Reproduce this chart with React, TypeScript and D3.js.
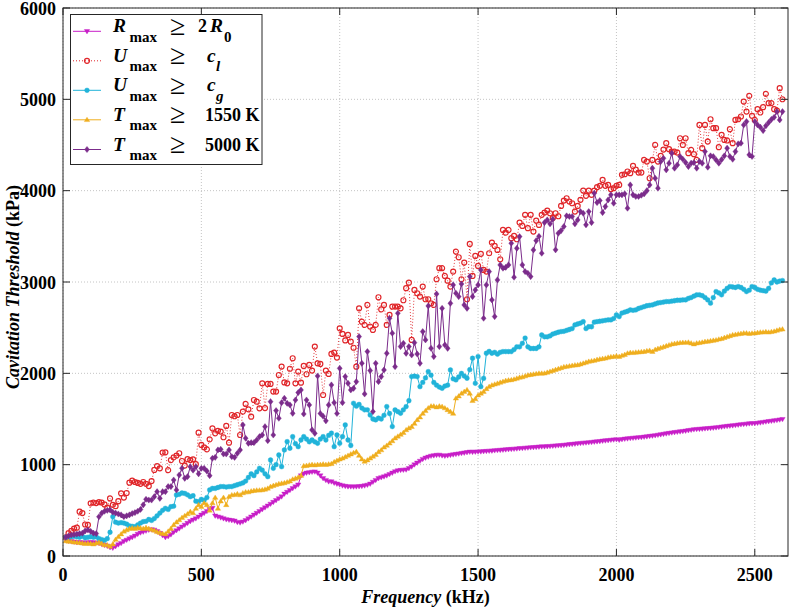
import React from 'react';
import * as d3 from 'd3';

// ---------------- data ----------------
const frequencies: number[] = d3.range(10, 2601, 10); // kHz

const rmax2R0: number[] = [
  175, 165, 160, 155, 150, 150, 145, 148, 145, 150,
  148, 145, 140, 130, 120, 110, 95, 88, 105, 125,
  140, 160, 175, 190, 205, 220, 240, 255, 265, 275,
  285, 290, 285, 270, 250, 225, 205, 215, 235, 260,
  280, 300, 320, 340, 360, 380, 395, 410, 430, 450,
  470, 490, 510, 525, 440, 430, 420, 410, 400, 395,
  390, 385, 370, 365, 375, 390, 410, 430, 450, 470,
  490, 510, 530, 550, 570, 590, 610, 630, 650, 680,
  700, 720, 740, 760, 780, 880, 900, 910, 915, 920,
  923, 910, 880, 850, 830, 815, 814, 800, 790, 780,
  770, 765, 760, 760, 758, 760, 762, 765, 770, 778,
  790, 810, 830, 850, 860, 869, 880, 895, 910, 925,
  935, 940, 942, 945, 960, 978, 1000, 1020, 1040, 1060,
  1075, 1085, 1095, 1100, 1105, 1106, 1100, 1095, 1100, 1105,
  1110, 1115, 1120, 1125, 1130, 1135, 1140, 1138, 1140, 1142,
  1143, 1145, 1148, 1150, 1152, 1155, 1158, 1160, 1162, 1165,
  1168, 1170, 1172, 1175, 1178, 1180, 1183, 1185, 1188, 1190,
  1192, 1195, 1197, 1198, 1200, 1202, 1205, 1207, 1210, 1212,
  1215, 1218, 1222, 1225, 1228, 1232, 1235, 1238, 1240, 1243,
  1246, 1250, 1253, 1256, 1260, 1263, 1266, 1270, 1273, 1276,
  1270, 1278, 1282, 1285, 1289, 1292, 1295, 1298, 1300, 1304,
  1308, 1312, 1316, 1320, 1325, 1330, 1335, 1340, 1345, 1350,
  1354, 1358, 1362, 1366, 1370, 1375, 1380, 1385, 1388, 1390,
  1392, 1395, 1398, 1400, 1403, 1406, 1410, 1414, 1418, 1422,
  1425, 1428, 1432, 1436, 1440, 1443, 1446, 1450, 1452, 1453,
  1456, 1460, 1465, 1470, 1474, 1478, 1482, 1487, 1492, 1497,
];

const umaxCl: number[] = [
  205, 250, 275, 300, 310, 485, 470, 345, 340, 577,
  585, 580, 590, 585, 565, 530, 630, 560, 545, 600,
  686, 640, 690, 803, 825, 810, 800, 790, 810, 790,
  766, 820, 942, 985, 960, 1132, 1135, 940, 1050, 1080,
  1100, 1125, 1040, 990, 1060, 1050, 1059, 1005, 1350, 1216,
  1190, 1168, 1277, 1398, 1343, 1370, 1362, 1300, 1424, 1241,
  1544, 1530, 1544, 1325, 1581, 1665, 1606, 1526, 1708, 1690,
  1617, 1891, 1620, 1884, 1884, 1800, 1800, 1982, 2074, 1900,
  1891, 2050, 2165, 1891, 2019, 1898, 2081, 1990, 2092, 2030,
  2293, 2110, 2103, 1763, 2030, 1993, 2212, 2227, 2172, 2493,
  2431, 2360, 2420, 2347, 2280, 2073, 2712, 2566, 2530, 2749,
  2512, 2475, 2530, 2833, 2700, 2749, 2530, 2640, 2731, 2731,
  2731, 2712, 2800, 2932, 2993, 2366, 2913, 2877, 2840, 2950,
  2811, 2811, 2767, 2749, 3030, 3151, 3151, 3066, 3015, 2950,
  3114, 3333, 3271, 3030, 3213, 2811, 3417, 3066, 3286, 3176,
  3308, 3132, 3114, 3315, 3432, 3395, 3351, 3249, 3570, 3540,
  3570, 3479, 3505, 3468, 3651, 3614, 3735, 3589, 3735, 3552,
  3673, 3625, 3735, 3760, 3782, 3753, 3700, 3753, 3720, 3833,
  3892, 3917, 3881, 3862, 3771, 3833, 3900, 4001, 3943, 4001,
  3954, 4000, 4038, 4053, 4118, 4053, 4063, 4016, 4027, 4053,
  4063, 4173, 4180, 4210, 4191, 4271, 4230, 4198, 4198, 4337,
  4319, 4136, 4337, 4501, 4319, 4381, 4450, 4520, 4454, 4428,
  4428, 4417, 4574, 4501, 4574, 4410, 4447, 4400, 4337, 4720,
  4465, 4720, 4538, 4782, 4684, 4684, 4476, 4611, 4556, 4549,
  4673, 4520, 4775, 4782, 4812, 4976, 4866, 5038, 4819, 4775,
  4892, 4856, 4914, 5060, 4958, 4958, 4892, 4877, 5122, 5001,
];

const umaxCg: number[] = [
  205, 205, 210, 215, 210, 205, 215, 200, 205, 211,
  205, 210, 190, 180, 170, 190, 260, 430, 370, 360,
  365, 360, 350, 330, 325, 321, 340, 360, 376, 380,
  400, 390, 410, 440, 470, 500, 522, 510, 540, 545,
  668, 675, 690, 685, 670, 650, 660, 600, 595, 620,
  610, 640, 723, 740, 740, 750, 760, 760, 755, 760,
  760, 770, 780, 790, 800, 820, 860, 900, 880, 920,
  960, 940, 900, 869, 1051, 960, 1000, 1106, 978, 1161,
  1252, 1180, 1307, 1230, 1197, 1270, 1307, 1280, 1250, 1270,
  1250, 1234, 1280, 1307, 1270, 1320, 1345, 1197, 1325, 1234,
  1307, 1435, 1270, 1210, 1672, 1640, 1660, 1620, 1600, 1600,
  1544, 1500, 1490, 1510, 1500, 1540, 1636, 1560, 1417, 1599,
  1580, 1563, 1600, 1636, 1700, 1964, 1970, 1964, 1854, 1900,
  1950, 2019, 1980, 1900, 1870, 1850, 1836, 1860, 1870, 2037,
  1940, 1928, 1960, 1999, 1970, 1946, 2040, 2165, 1891, 2183,
  1854, 1945, 2220, 2240, 2220, 2230, 2210, 2230, 2238, 2238,
  2238, 2238, 2260, 2290, 2290, 2329, 2386, 2290, 2272, 2272,
  2272, 2290, 2420, 2400, 2400, 2410, 2430, 2440, 2450, 2457,
  2460, 2470, 2480, 2490, 2530, 2540, 2550, 2566, 2490, 2510,
  2510, 2560, 2566, 2570, 2575, 2580, 2585, 2585, 2600, 2640,
  2621, 2660, 2670, 2680, 2694, 2690, 2694, 2710, 2720, 2730,
  2740, 2745, 2749, 2760, 2770, 2775, 2780, 2786, 2786, 2790,
  2795, 2800, 2800, 2804, 2804, 2820, 2830, 2845, 2859, 2860,
  2850, 2830, 2804, 2768, 2830, 2895, 2880, 2860, 2900, 2930,
  2950, 2945, 2940, 2950, 2940, 2920, 2895, 2910, 2950, 2940,
  2920, 2910, 2905, 2900, 2930, 2990, 3023, 3000, 3010, 3016,
];

const tmax1550: number[] = [
  165, 160, 158, 150, 150, 145, 140, 135, 138, 135,
  130, 140, 150, 135, 120, 120, 105, 130, 180, 211,
  240, 270, 285, 300, 305, 300, 310, 305, 300, 310,
  300, 290, 280, 265, 255, 245, 241, 270, 300, 340,
  370, 394, 420, 440, 460, 485, 470, 520, 560, 540,
  580, 560, 500, 580, 640, 520, 600, 640, 560, 650,
  668, 670, 680, 668, 690, 700, 700, 710, 715, 720,
  720, 723, 730, 740, 760, 770, 780, 790, 795, 800,
  810, 820, 840, 850, 860, 880, 986, 990, 995, 1000,
  995, 1000, 1000, 1005, 1000, 1005, 1010, 1030, 1045, 1060,
  1070, 1085, 1100, 1115, 1130, 1142, 1100, 1060, 1035, 1050,
  1070, 1090, 1110, 1140, 1160, 1190, 1210, 1234, 1260, 1290,
  1310, 1330, 1350, 1380, 1400, 1416, 1450, 1490, 1520, 1560,
  1590, 1620, 1640, 1640, 1630, 1640, 1635, 1620, 1600, 1580,
  1560, 1727, 1750, 1780, 1800, 1818, 1780, 1700, 1720, 1760,
  1780, 1800, 1830, 1855, 1870, 1880, 1890, 1900, 1910, 1920,
  1925, 1928, 1935, 1945, 1955, 1960, 1970, 1980, 1985, 1990,
  1995, 2000, 2000, 2001, 2010, 2020, 2030, 2040, 2050, 2060,
  2070, 2075, 2080, 2085, 2090, 2092, 2100, 2110, 2120, 2130,
  2135, 2140, 2150, 2155, 2160, 2165, 2175, 2180, 2183, 2190,
  2183, 2195, 2205, 2220, 2227, 2225, 2230, 2232, 2235, 2238,
  2245, 2250, 2238, 2260, 2270, 2280, 2290, 2300, 2310, 2320,
  2325, 2330, 2335, 2337, 2337, 2340, 2330, 2320, 2330, 2335,
  2340, 2347, 2350, 2355, 2360, 2365, 2373, 2380, 2390, 2400,
  2410, 2420, 2425, 2430, 2435, 2440, 2440, 2435, 2439, 2440,
  2445, 2450, 2450, 2455, 2450, 2455, 2460, 2470, 2480, 2483,
];

const tmax5000: number[] = [
  205, 220, 230, 235, 240, 245, 250, 275, 285, 270,
  250, 245, 430, 470, 490, 500, 505, 480, 470, 460,
  450, 430, 440, 450, 465, 475, 490, 510, 560, 621,
  613, 613, 650, 704, 631, 704, 704, 760, 760, 832,
  723, 887, 960, 851, 869, 978, 940, 978, 900, 960,
  960, 930, 880, 1070, 1080, 1161, 1168, 1117, 1117, 1161,
  1088, 1080, 1124, 1161, 1435, 1289, 1234, 1241, 1241, 1270,
  1307, 1325, 1416, 1263, 1690, 1325, 1592, 1508, 1679, 1727,
  1672, 1654, 1562, 1708, 1789, 1818, 1555, 1708, 1654, 1380,
  1343, 1971, 1560, 1530, 1480, 1654, 1873, 1679, 1560, 2055,
  1679, 1964, 1891, 1818, 1836, 1909, 2402, 2110, 1774, 2238,
  2030, 1581, 2110, 1909, 1964, 2037, 2219, 2603, 2439, 2073,
  2658, 2293, 2329, 2219, 2293, 2201, 2336, 2212, 2110, 2457,
  2366, 2738, 2274, 2183, 2869, 2293, 2712, 2311, 2274, 2767,
  2968, 2877, 2840, 2979, 2749, 2712, 3059, 2840, 2913, 2968,
  3132, 2603, 2968, 3114, 2804, 2621, 3023, 3187, 3151, 3161,
  3187, 3424, 3052, 3369, 3497, 3187, 3114, 3096, 3059, 3351,
  3453, 3500, 3315, 3651, 3680, 3637, 3688, 3352, 3534, 3563,
  3607, 3724, 3717, 3717, 3637, 3680, 3771, 3753, 3626, 3771,
  3651, 3972, 3870, 3892, 3760, 3826, 3899, 3954, 3862, 3954,
  3954, 3954, 3965, 3808, 4063, 3954, 3936, 3936, 3950, 3965,
  4000, 4063, 4246, 4136, 4027, 4319, 4355, 4228, 4300, 4410,
  4246, 4282, 4374, 4344, 4308, 4264, 4301, 4308, 4246, 4320,
  4300, 4428, 4257, 4381, 4374, 4337, 4301, 4340, 4381, 4465,
  4374, 4344, 4428, 4512, 4520, 4720, 4757, 4392, 4374, 4757,
  4720, 4695, 4658, 4710, 4746, 4780, 4804, 4866, 4775, 4866,
];

const xTicks: number[] = [0, 500, 1000, 1500, 2000, 2500];
const yTicks: number[] = [0, 1000, 2000, 3000, 4000, 5000, 6000];

// ---------------- layout ----------------
const W = 789;
const H = 608;
const L = 63;
const R = 788;
const T = 8;
const B = 556;
const FONT = "'Liberation Serif', 'Times New Roman', serif";

const x = d3.scaleLinear().domain([0, 2620]).range([L, R]);
const y = d3.scaleLinear().domain([0, 6000]).range([B, T]);

type Marker = 'tdown' | 'tup' | 'circle' | 'dot' | 'diamond';

interface SeriesDef {
  key: string;
  values: number[];
  color: string;
  marker: Marker;
  dotted: boolean;
}

const series: SeriesDef[] = [
  { key: 'r', values: rmax2R0, color: '#C81EC8', marker: 'tdown', dotted: false },
  { key: 'ucl', values: umaxCl, color: '#E0262A', marker: 'circle', dotted: true },
  { key: 'ucg', values: umaxCg, color: '#21B3D9', marker: 'dot', dotted: false },
  { key: 't1', values: tmax1550, color: '#EFAE1E', marker: 'tup', dotted: false },
  { key: 't2', values: tmax5000, color: '#7B2C8B', marker: 'diamond', dotted: false },
];

function markerPath(m: Marker, px: number, py: number): string {
  switch (m) {
    case 'tdown':
      return `M${px - 2.7},${py - 1.8}L${px + 2.7},${py - 1.8}L${px},${py + 2.6}Z`;
    case 'tup':
      return `M${px - 2.7},${py + 1.8}L${px + 2.7},${py + 1.8}L${px},${py - 2.6}Z`;
    case 'diamond':
      return `M${px},${py - 3.1}L${px + 2.5},${py}L${px},${py + 3.1}L${px - 2.5},${py}Z`;
    case 'dot': {
      const r = 2.4;
      return `M${px + r},${py}A${r},${r} 0 1,0 ${px - r},${py}A${r},${r} 0 1,0 ${px + r},${py}Z`;
    }
    case 'circle': {
      const r = 2.5;
      return `M${px + r},${py}A${r},${r} 0 1,0 ${px - r},${py}A${r},${r} 0 1,0 ${px + r},${py}Z`;
    }
  }
  return '';
}

function SeriesMarks({ s }: { s: SeriesDef }) {
  const pts = frequencies.map((f, i) => [f, s.values[i]] as [number, number]);
  const line = d3
    .line<[number, number]>()
    .x((d) => x(d[0]))
    .y((d) => y(d[1]))(pts) as string;
  const marks = pts.map((d) => markerPath(s.marker, x(d[0]), y(d[1]))).join('');
  const hollow = s.marker === 'circle';
  return (
    <g>
      <path
        d={line}
        fill="none"
        stroke={s.color}
        strokeWidth={s.dotted ? 0.9 : 1}
        strokeDasharray={s.dotted ? '1,2' : undefined}
      />
      <path
        d={marks}
        fill={hollow ? 'none' : s.color}
        stroke={s.color}
        strokeWidth={hollow ? 1.2 : 0.4}
      />
    </g>
  );
}

function LegendRow({ s, cy, idx }: { s: SeriesDef; cy: number; idx: number }) {
  const bl = cy + 1;
  const sub = cy + 10.5;
  const letters = ['R', 'U', 'U', 'T', 'T'];
  const hollow = s.marker === 'circle';
  let rhs: React.ReactNode = null;
  if (idx === 0) {
    rhs = (
      <>
        <text x={198} y={bl} fontSize={18}>2</text>
        <text x={210} y={bl} fontStyle="italic">R</text>
        <text x={224} y={sub} fontSize={15}>0</text>
      </>
    );
  } else if (idx === 1) {
    rhs = (
      <>
        <text x={207} y={bl} fontStyle="italic">c</text>
        <text x={216} y={sub} fontSize={15} fontStyle="italic">l</text>
      </>
    );
  } else if (idx === 2) {
    rhs = (
      <>
        <text x={207} y={bl} fontStyle="italic">c</text>
        <text x={216} y={sub} fontSize={15} fontStyle="italic">g</text>
      </>
    );
  } else if (idx === 3) {
    rhs = <text x={205} y={bl} fontSize={18}>1550 K</text>;
  } else {
    rhs = <text x={205} y={bl} fontSize={18}>5000 K</text>;
  }
  return (
    <g>
      <line
        x1={73}
        x2={101}
        y1={cy}
        y2={cy}
        stroke={s.color}
        strokeWidth={1}
        strokeDasharray={s.dotted ? '1,2' : undefined}
      />
      <path
        d={markerPath(s.marker, 87, cy)}
        fill={hollow ? 'none' : s.color}
        stroke={s.color}
        strokeWidth={hollow ? 1.2 : 0.4}
      />
      <g fontFamily={FONT} fontWeight="bold" fontSize={19.5} fill="#000">
        <text x={113} y={bl} fontStyle="italic">{letters[idx]}</text>
        <text x={129.5} y={sub} fontSize={15}>max</text>
        <text x={170} y={cy + 3.5} fontSize={28} fontWeight="normal">≥</text>
        {rhs}
      </g>
    </g>
  );
}

export default function App() {
  const legendRows = [31.3, 60.8, 90.3, 119.8, 149.5];
  return (
    <svg
      width={W}
      height={H}
      style={{ position: 'absolute', left: 0, top: 0, background: '#fff' }}
    >
      <rect x={0} y={0} width={W} height={H} fill="#fff" />
      <defs>
        <clipPath id="plotclip">
          <rect x={L} y={T - 4} width={R - L + 2} height={B - T + 8} />
        </clipPath>
      </defs>
      {/* grid */}
      <g stroke="#c4c4c4" strokeWidth={1} strokeDasharray="1,2">
        {xTicks.map((t) => (
          <line key={'gx' + t} x1={x(t)} x2={x(t)} y1={T} y2={B} />
        ))}
        {yTicks.map((t) => (
          <line key={'gy' + t} x1={L} x2={R} y1={y(t)} y2={y(t)} />
        ))}
      </g>
      {/* series */}
      <g clipPath="url(#plotclip)">
        {series.map((s) => (
          <SeriesMarks key={s.key} s={s} />
        ))}
      </g>
      {/* axes box + ticks */}
      <g stroke="#262626" strokeWidth={1} fill="none">
        <rect x={L} y={T} width={R - L} height={B - T} />
        {xTicks.map((t) => (
          <g key={'tx' + t}>
            <line x1={x(t)} x2={x(t)} y1={B} y2={B - 7} />
            <line x1={x(t)} x2={x(t)} y1={T} y2={T + 7} />
          </g>
        ))}
        {yTicks.map((t) => (
          <g key={'ty' + t}>
            <line x1={L} x2={L + 7} y1={y(t)} y2={y(t)} />
            <line x1={R} x2={R - 7} y1={y(t)} y2={y(t)} />
          </g>
        ))}
      </g>
      {/* tick labels */}
      <g fontFamily={FONT} fontWeight="bold" fontSize={18} fill="#000">
        {xTicks.map((t) => (
          <text key={'lx' + t} x={x(t)} y={581} textAnchor="middle">
            {t}
          </text>
        ))}
        {yTicks.map((t) => (
          <text key={'ly' + t} x={56} y={y(t) + 6.5} textAnchor="end">
            {t}
          </text>
        ))}
      </g>
      {/* axis labels */}
      <text
        x={(L + R) / 2}
        y={603}
        textAnchor="middle"
        fontFamily={FONT}
        fontWeight="bold"
        fontSize={18}
        fill="#000"
      >
        <tspan fontStyle="italic">Frequency</tspan>
        <tspan> (kHz)</tspan>
      </text>
      <text
        transform={`translate(19,287) rotate(-90)`}
        textAnchor="middle"
        fontFamily={FONT}
        fontWeight="bold"
        fontSize={18}
        fill="#000"
      >
        <tspan fontStyle="italic">Cavitation Threshold</tspan>
        <tspan> (kPa)</tspan>
      </text>
      {/* legend */}
      <rect x={70.5} y={14.5} width={191.5} height={150} fill="#fff" stroke="#262626" strokeWidth={1} />
      {series.map((s, i) => (
        <LegendRow key={'lg' + s.key} s={s} cy={legendRows[i]} idx={i} />
      ))}
    </svg>
  );
}
